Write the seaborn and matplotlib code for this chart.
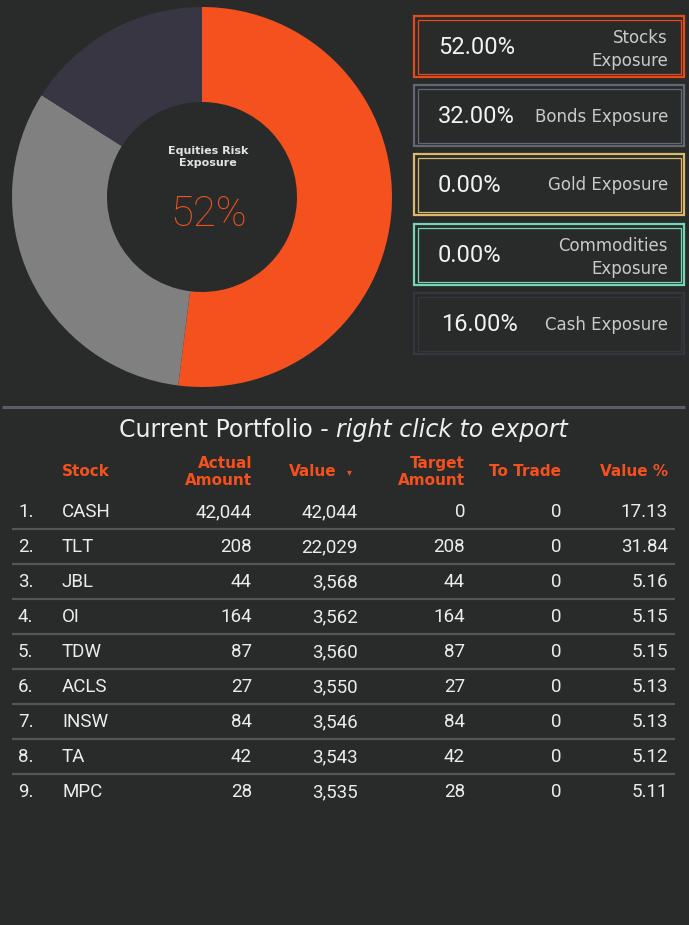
import matplotlib
matplotlib.use("Agg")
import matplotlib.pyplot as plt
import seaborn as sns
import numpy as np
import pandas as pd
from matplotlib.patches import Rectangle

# ---------------- data ----------------
exposure_names = ["Stocks", "Bonds", "Gold", "Commodities", "Cash"]
exposure_labels = ["Stocks\nExposure", "Bonds Exposure", "Gold Exposure",
                   "Commodities\nExposure", "Cash Exposure"]
exposure_pct = [52.00, 32.00, 0.00, 0.00, 16.00]
equities_risk_pct = 52

stocks = ["CASH", "TLT", "JBL", "OI", "TDW", "ACLS", "INSW", "TA", "MPC"]
actual_amount = [42044, 208, 44, 164, 87, 27, 84, 42, 28]
value = [42044, 22029, 3568, 3562, 3560, 3550, 3546, 3543, 3535]
target_amount = [0, 208, 44, 164, 87, 27, 84, 42, 28]
to_trade = [0, 0, 0, 0, 0, 0, 0, 0, 0]
value_pct = [17.13, 31.84, 5.16, 5.15, 5.15, 5.13, 5.13, 5.12, 5.11]

# ---------------- style ----------------
BG = "#292b2a"
ORANGE = "#f4511e"
TXT = "#ececec"
LBL = "#c9c9c9"
card_colors = ["#e64a19", "#616873", "#dcb86a", "#74d6b5", "#363641"]
donut_colors = {"Stocks": "#f4511e", "Bonds": "#808080", "Cash": "#373642"}

sns.set_theme(style="dark", rc={"figure.facecolor": BG, "axes.facecolor": BG,
                                "savefig.facecolor": BG})
plt.rcParams["font.family"] = ["Roboto", "DejaVu Sans"]
WIDE_FONT = ["DejaVu Sans"]

W, H = 689, 925
fig = plt.figure(figsize=(W / 100, H / 100), dpi=100)
ax = fig.add_axes([0, 0, 1, 1])
ax.set_xlim(0, W)
ax.set_ylim(0, H)

def Y(y):
    return H - y

# ---------------- donut ----------------
exp_df = pd.DataFrame({"name": exposure_names, "pct": exposure_pct})
pie_df = exp_df[exp_df["pct"] > 0]
ax.pie(pie_df["pct"], colors=[donut_colors[n] for n in pie_df["name"]],
       startangle=90, counterclock=False, radius=190, center=(202, Y(197)),
       wedgeprops=dict(width=95, linewidth=0))
ax.set_xlim(0, W)
ax.set_ylim(0, H)
ax.set_aspect("auto")
ax.text(208, Y(157), "Equities Risk\nExposure", ha="center", va="center",
        color="#e2e2e2", fontsize=8, fontweight="bold", family=WIDE_FONT,
        linespacing=1.25)
ax.text(209, Y(214), f"{equities_risk_pct}%", ha="center", va="center",
        color=ORANGE, fontsize=30, fontweight="light", family=["Roboto"])

# ---------------- cards ----------------
card_tops = [15, 84, 153, 223, 292]
card_h = 63
for i, (lab, pct) in enumerate(zip(exposure_labels, exposure_pct)):
    x0, x1 = 413, 685
    y0 = card_tops[i]
    c = card_colors[i]
    ax.add_patch(Rectangle((x0 + 1, Y(y0 + card_h - 1)), x1 - x0 - 2, card_h - 2,
                           fill=False, edgecolor=c, linewidth=1.6))
    ax.add_patch(Rectangle((x0 + 4.5, Y(y0 + card_h - 4.5)), x1 - x0 - 9, card_h - 9,
                           fill=False, edgecolor=c, linewidth=0.9))
    yc = y0 + card_h / 2
    ax.text(438 if i < 4 else 441, Y(yc + 1), f"{pct:.2f}%", ha="left", va="center",
            color="#f2f2f2", fontsize=17)
    shift = 3 if "\n" in lab else 1
    ax.text(668, Y(yc + shift), lab, ha="right", va="center", multialignment="right",
            color=LBL, fontsize=12, family=WIDE_FONT, linespacing=1.35)

# ---------------- separator + title ----------------
ax.plot([2, 685], [Y(407), Y(407)], color="#5a5d6a", lw=2.2, solid_capstyle="butt")
t1 = ax.text(0, Y(430), "Current Portfolio -", ha="left", va="center",
             color="#eeeeee", fontsize=17, family=WIDE_FONT)
t2 = ax.text(0, Y(430), "right click to export", ha="left", va="center",
             color="#eeeeee", fontsize=17, style="italic", family=WIDE_FONT)
renderer = fig.canvas.get_renderer()
w1 = t1.get_window_extent(renderer).width
w2 = t2.get_window_extent(renderer).width
gap = 7
x_start = 343.5 - (w1 + gap + w2) / 2
t1.set_x(x_start)
t2.set_x(x_start + w1 + gap)

# ---------------- table header ----------------
hy = 472
hkw = dict(color=ORANGE, fontsize=11, fontweight="bold", family=WIDE_FONT,
           va="center", linespacing=1.12)
ax.text(62, Y(hy), "Stock", ha="left", **hkw)
ax.text(252, Y(hy), "Actual\nAmount", ha="right", multialignment="right", **hkw)
ax.text(337, Y(hy), "Value", ha="right", **hkw)
ax.text(349, Y(hy), "\u25BE", ha="center", va="center", color=ORANGE,
        fontsize=7, family=["DejaVu Sans"])
ax.text(465, Y(hy), "Target\nAmount", ha="right", multialignment="right", **hkw)
ax.text(561, Y(hy), "To Trade", ha="right", **hkw)
ax.text(668, Y(hy), "Value %", ha="right", **hkw)

# ---------------- table rows ----------------
row0, dy = 512, 35
rkw = dict(color=TXT, fontsize=13.5, va="center")
for i in range(len(stocks)):
    y = row0 + i * dy
    ax.text(18, Y(y), f"{i + 1}.", ha="left", **rkw)
    ax.text(62, Y(y), stocks[i], ha="left", **rkw)
    ax.text(252, Y(y), f"{actual_amount[i]:,}", ha="right", **rkw)
    ax.text(358, Y(y), f"{value[i]:,}", ha="right", **rkw)
    ax.text(465, Y(y), f"{target_amount[i]:,}", ha="right", **rkw)
    ax.text(561, Y(y), f"{to_trade[i]:,}", ha="right", **rkw)
    ax.text(668, Y(y), f"{value_pct[i]:.2f}", ha="right", **rkw)
    if i < len(stocks) - 1:
        ax.plot([12, 675], [Y(y + 17), Y(y + 17)], color="#555757", lw=1.6,
                solid_capstyle="butt")

ax.axis("off")

fig.savefig("out.png", dpi=100, facecolor=BG)
